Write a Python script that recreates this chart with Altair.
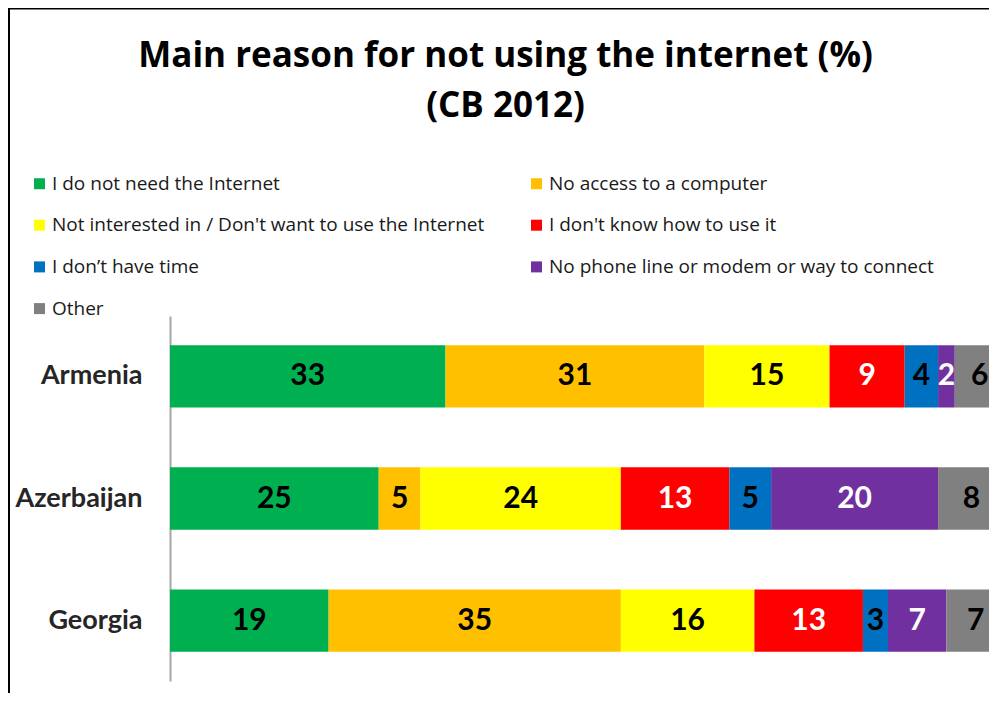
import altair as alt
import pandas as pd

countries = ["Armenia", "Azerbaijan", "Georgia"]
reasons = [
    "I do not need the Internet",
    "No access to a computer",
    "Not interested in / Don't want to use the Internet",
    "I don't know how to use it",
    "I don\u2019t have time",
    "No phone line or modem or way to connect",
    "Other",
]
colors = ["#00B050", "#FFC000", "#FFFF00", "#FF0000", "#0070C0", "#7030A0", "#808080"]
label_colors = ["black", "black", "black", "white", "black", "white", "black"]

armenia = [33, 31, 15, 9, 4, 2, 6]
azerbaijan = [25, 5, 24, 13, 5, 20, 8]
georgia = [19, 35, 16, 13, 3, 7, 7]

rows = []
for country, vals in zip(countries, [armenia, azerbaijan, georgia]):
    for i, (r, v) in enumerate(zip(reasons, vals)):
        rows.append({"country": country, "reason": r, "idx": i, "value": v,
                     "tcolor": label_colors[i]})
df = pd.DataFrame(rows)

FONT = "Lato"
LFONT = "Open Sans"

yenc = alt.Y("country:N", sort=countries, title=None,
             scale=alt.Scale(paddingInner=0.49, paddingOuter=0.24),
             axis=alt.Axis(labelFont=FONT, labelFontSize=27, labelFontWeight="bold",
                           labelColor="#262626", labelPadding=28, ticks=False,
                           domainColor="#A6A6A6", domainWidth=2, grid=False))
xscale = alt.Scale(domain=[0, 98.1], nice=False, zero=True)

base = alt.Chart(df)

bars = base.mark_bar(clip=True).encode(
    y=yenc,
    x=alt.X("value:Q", stack="zero", scale=xscale, axis=None),
    color=alt.Color("reason:N", sort=reasons,
                    scale=alt.Scale(domain=reasons, range=colors),
                    legend=alt.Legend(title=None, orient="none", legendX=-140, legendY=-142,
                                      direction="horizontal",
                                      columns=2, columnPadding=42, rowPadding=21.7,
                                      symbolType="square", symbolSize=121, symbolStrokeWidth=0,
                                      labelFont=LFONT, labelFontSize=19, labelColor="#1a1a1a",
                                      labelOffset=3, labelLimit=600, padding=0)),
    order=alt.Order("idx:Q"),
)

text = base.transform_stack(
    stack="value", groupby=["country"], as_=["x0", "x1"],
    sort=[alt.SortField("idx", order="ascending")],
).transform_calculate(mid="(datum.x0 + datum.x1) / 2").mark_text(
    font=FONT, fontSize=30, fontWeight="bold", baseline="middle", align="center"
).encode(
    y=yenc,
    x=alt.X("mid:Q", scale=xscale, axis=None),
    text=alt.Text("value:Q"),
    color=alt.Color("tcolor:N", scale=None),
)

frame = alt.Chart(alt.Data(values=[{"a": 1}])).mark_rect(
    filled=False, stroke="black", strokeWidth=2, clip=False
).encode(
    x=alt.value(-161), x2=alt.value(1000), y=alt.value(-307.5), y2=alt.value(700)
)

chart = alt.layer(bars, text, frame).properties(
    width=819, height=365,
    autosize=alt.AutoSizeParams(type="none"),
    padding={"left": 162, "top": 308, "right": 0, "bottom": 12},
    title=alt.TitleParams(
        text=["Main reason for not using the internet (%)", "(CB 2012)"],
        font=LFONT, fontSize=35, fontWeight="bold", color="black",
        anchor="middle", dx=-74, dy=116, offset=0, lineHeight=50,
    ),
).configure_view(stroke=None)

chart.save("out.html", embed_options={"renderer": "svg", "actions": False})
